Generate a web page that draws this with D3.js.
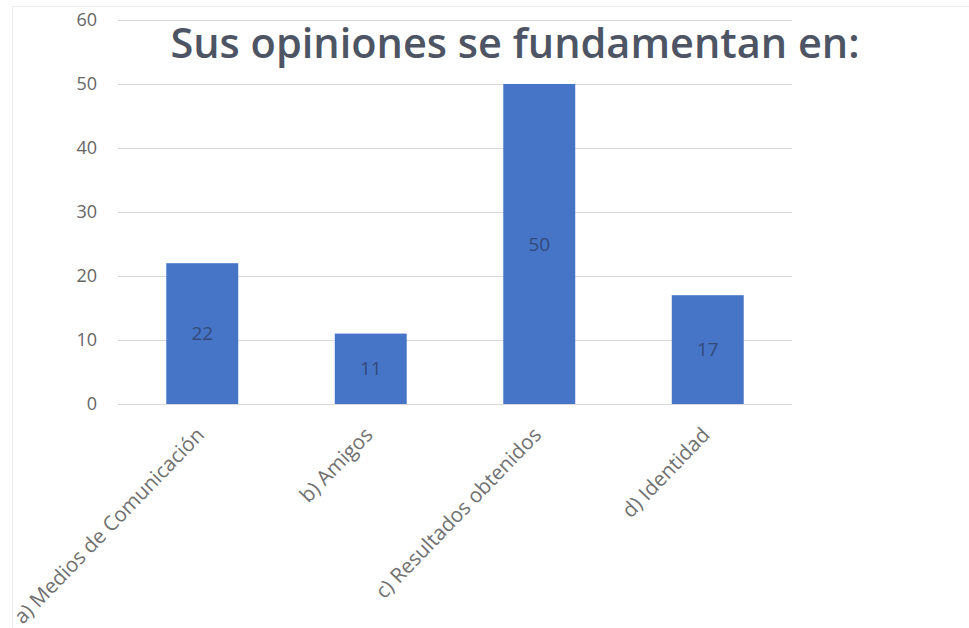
<!DOCTYPE html>
<html>
<head>
<meta charset="utf-8">
<script src="https://cdn.jsdelivr.net/npm/d3@7"></script>
<style>
  html, body { margin: 0; padding: 0; background: #fff; }
  svg { display: block; }
</style>
</head>
<body>
<svg id="chart" width="969" height="628"></svg>
<script>
// Chart data
const categories = ["a) Medios de Comunicación", "b) Amigos", "c) Resultados obtenidos", "d) Identidad"];
const values = [22, 11, 50, 17];
const yTicks = [0, 10, 20, 30, 40, 50, 60];
const titleText = "Sus opiniones se fundamentan en:";

const svg = d3.select("#chart");
const W = 969, H = 628;
const plot = { left: 118, right: 792, top: 20, bottom: 404 };
const font = "'Open Sans', sans-serif";

// Outer frame
svg.append("rect").attr("x", 12.5).attr("y", 6.5).attr("width", W - 12).attr("height", H)
  .attr("fill", "#fff").attr("stroke", "#ececec");

const x = d3.scaleBand().domain(categories).range([plot.left, plot.right]).paddingInner(0.573).paddingOuter(0.2865);
const y = d3.scaleLinear().domain([0, 60]).range([plot.bottom, plot.top]);

// Horizontal gridlines
svg.append("g").selectAll("line").data(yTicks).join("line")
  .attr("x1", plot.left).attr("x2", plot.right)
  .attr("y1", d => Math.round(y(d)) + 0.5).attr("y2", d => Math.round(y(d)) + 0.5)
  .attr("stroke", "#d9d9d9").attr("stroke-width", 1);

// Y axis labels
const yAxis = d3.axisLeft(y).tickValues(yTicks).tickSize(0).tickPadding(0);
const gy = svg.append("g").attr("transform", "translate(97,0)").call(yAxis);
gy.select(".domain").remove();
gy.selectAll("text").attr("fill", "#666666").style("font-family", font).style("font-size", "18px");

// Bars
svg.append("g").selectAll("rect").data(values).join("rect")
  .attr("x", (d, i) => x(categories[i]))
  .attr("width", x.bandwidth())
  .attr("y", d => y(d))
  .attr("height", d => y(0) - y(d))
  .attr("fill", "#4675c8");

// Value labels centered in bars
svg.append("g").selectAll("text").data(values).join("text")
  .attr("x", (d, i) => x(categories[i]) + x.bandwidth() / 2)
  .attr("y", d => y(d / 2))
  .attr("dy", "0.35em")
  .attr("text-anchor", "middle")
  .attr("fill", "#34497a")
  .style("font-family", font)
  .style("font-size", "19px")
  .text(d => d);

// X axis category labels, rotated
const xAxis = d3.axisBottom(x).tickSize(0).tickPadding(0);
const gx = svg.append("g").attr("transform", `translate(0,${plot.bottom})`).call(xAxis);
gx.select(".domain").remove();
gx.selectAll("text")
  .attr("fill", "#707070")
  .style("font-family", font)
  .style("font-size", "20.5px")
  .attr("text-anchor", "end")
  .attr("dy", "0.35em")
  .attr("transform", "translate(-2,27) rotate(-46)");

// Title
svg.append("text")
  .attr("x", 515).attr("y", 58)
  .attr("text-anchor", "middle")
  .attr("fill", "#4d5564")
  .style("font-family", font)
  .style("font-weight", "600")
  .style("font-size", "41.5px")
  .text(titleText);
</script>
</body>
</html>
